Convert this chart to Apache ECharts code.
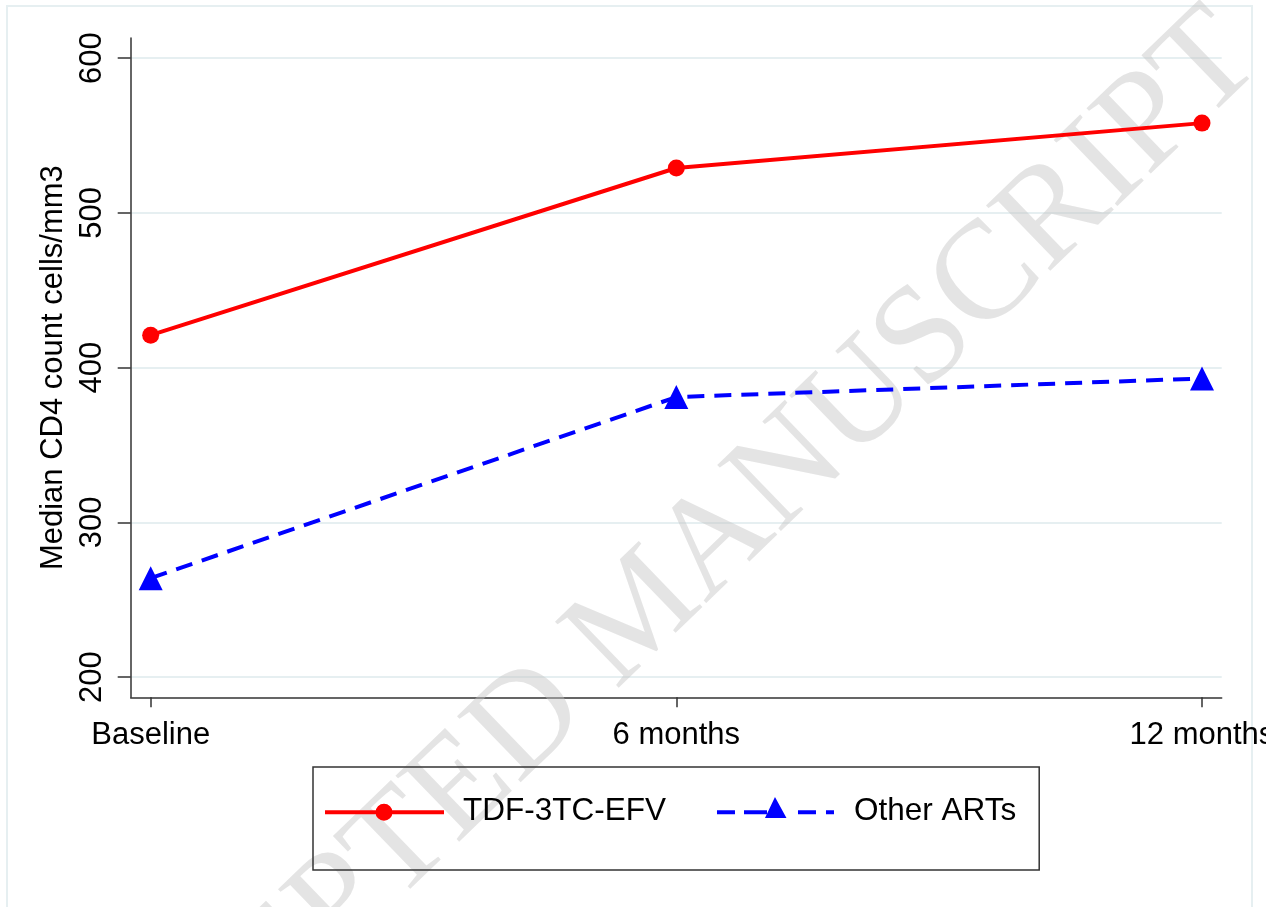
<!DOCTYPE html>
<html><head><meta charset="utf-8">
<script src="https://cdn.jsdelivr.net/npm/echarts@6/dist/echarts.min.js"></script>
<style>html,body{margin:0;padding:0;background:#fff}#c{width:1266px;height:907px}</style>
</head><body><div id="c"></div>
<script>
const categories = ['Baseline', '6 months', '12 months'];
const tdf = [421, 529, 558];
const other = [264, 381, 393];
const yTicks = [200, 300, 400, 500, 600];
const xTicks = [0, 1, 2];
const seriesNames = ['TDF-3TC-EFV', 'Other ARTs'];

// legend key glyphs (line + marker), drawn in a 119 x 28 box
const bboxPts = 'M0 0 L0 0 Z M119 28 L119 28 Z ';
const redKey = 'path://' + bboxPts + 'M0 13.3 L119 13.3 L119 17.3 L0 17.3 Z M50.5 15.3 A8.5 8.5 0 1 1 67.5 15.3 A8.5 8.5 0 1 1 50.5 15.3 Z';
const blueKey = 'path://' + bboxPts +
  'M1 13.3 L19 13.3 L19 17.3 L1 17.3 Z M28 13.3 L51 13.3 L51 17.3 L28 17.3 Z M49 21 L59 0 L70.5 21 Z ' +
  'M82 13.3 L100 13.3 L100 17.3 L82 17.3 Z M110 13.3 L118 13.3 L118 17.3 L110 17.3 Z';

const chart = echarts.init(document.getElementById('c'));
const font = 'Liberation Sans, Arial, sans-serif';
chart.setOption({
  animation: false,
  backgroundColor: '#fff',
  graphic: [
    { type: 'rect', shape: { x: 7, y: 6, width: 1245, height: 910 }, style: { fill: 'none', stroke: '#e6eff1', lineWidth: 2 }, z: 0 },
    { type: 'text', x: 642, y: 614, rotation: 44 * Math.PI / 180, z: 1,
      style: { text: 'ACCEPTED MANUSCRIPT', font: '140px "Liberation Serif", "Times New Roman", serif', fill: 'rgba(195,195,195,0.45)', align: 'center', verticalAlign: 'middle' } }
  ],
  grid: { left: 130.7, right: 44.3, top: 38, bottom: 209.7, containLabel: false, outerBoundsMode: 'none' },
  legend: {
    left: 313, top: 767,
    padding: [28, 23, 43, 12],
    borderColor: '#333', borderWidth: 1.5,
    itemWidth: 119, itemHeight: 28, itemGap: 50,
    itemStyle: { borderWidth: 0 },
    textStyle: { fontFamily: font, fontSize: 31.5, color: '#000', padding: [0, 0, 0, 14] },
    data: [
      { name: seriesNames[0], icon: redKey },
      { name: seriesNames[1], icon: blueKey }
    ]
  },
  xAxis: {
    type: 'value', min: -0.038, max: 2.0375,
    axisLine: { show: true, onZero: false, lineStyle: { color: '#333', width: 1.5 } },
    axisTick: { show: true, length: 10, customValues: xTicks, lineStyle: { color: '#333', width: 1.5 } },
    axisLabel: { customValues: xTicks, margin: 23, fontFamily: font, fontSize: 31, color: '#000',
      formatter: v => categories[Math.round(v)] },
    splitLine: { show: false }
  },
  yAxis: {
    type: 'value', min: 187, max: 613,
    name: 'Median CD4 count cells/mm3', nameLocation: 'middle', nameGap: 46,
    nameTextStyle: { fontFamily: font, fontSize: 31, color: '#000' },
    axisLine: { show: true, onZero: false, lineStyle: { color: '#333', width: 1.5 } },
    axisTick: { show: true, length: 13, customValues: yTicks, lineStyle: { color: '#333', width: 1.5 } },
    axisLabel: { customValues: yTicks, rotate: 90, margin: 23, fontFamily: font, fontSize: 31, color: '#000' },
    splitLine: { show: true, lineStyle: { color: '#e6eff1', width: 2 } }
  },
  series: [
    { name: seriesNames[0], type: 'line', z: 3,
      data: tdf.map((v, i) => [xTicks[i], v]),
      symbol: 'circle', symbolSize: 17,
      lineStyle: { color: '#ff0000', width: 4 },
      itemStyle: { color: '#ff0000' } },
    { name: seriesNames[1], type: 'line', z: 3,
      data: other.map((v, i) => [xTicks[i], v]),
      symbol: 'triangle', symbolSize: 24,
      lineStyle: { color: '#0000ff', width: 4, type: [17, 10] },
      itemStyle: { color: '#0000ff' } }
  ]
});
</script></body></html>
